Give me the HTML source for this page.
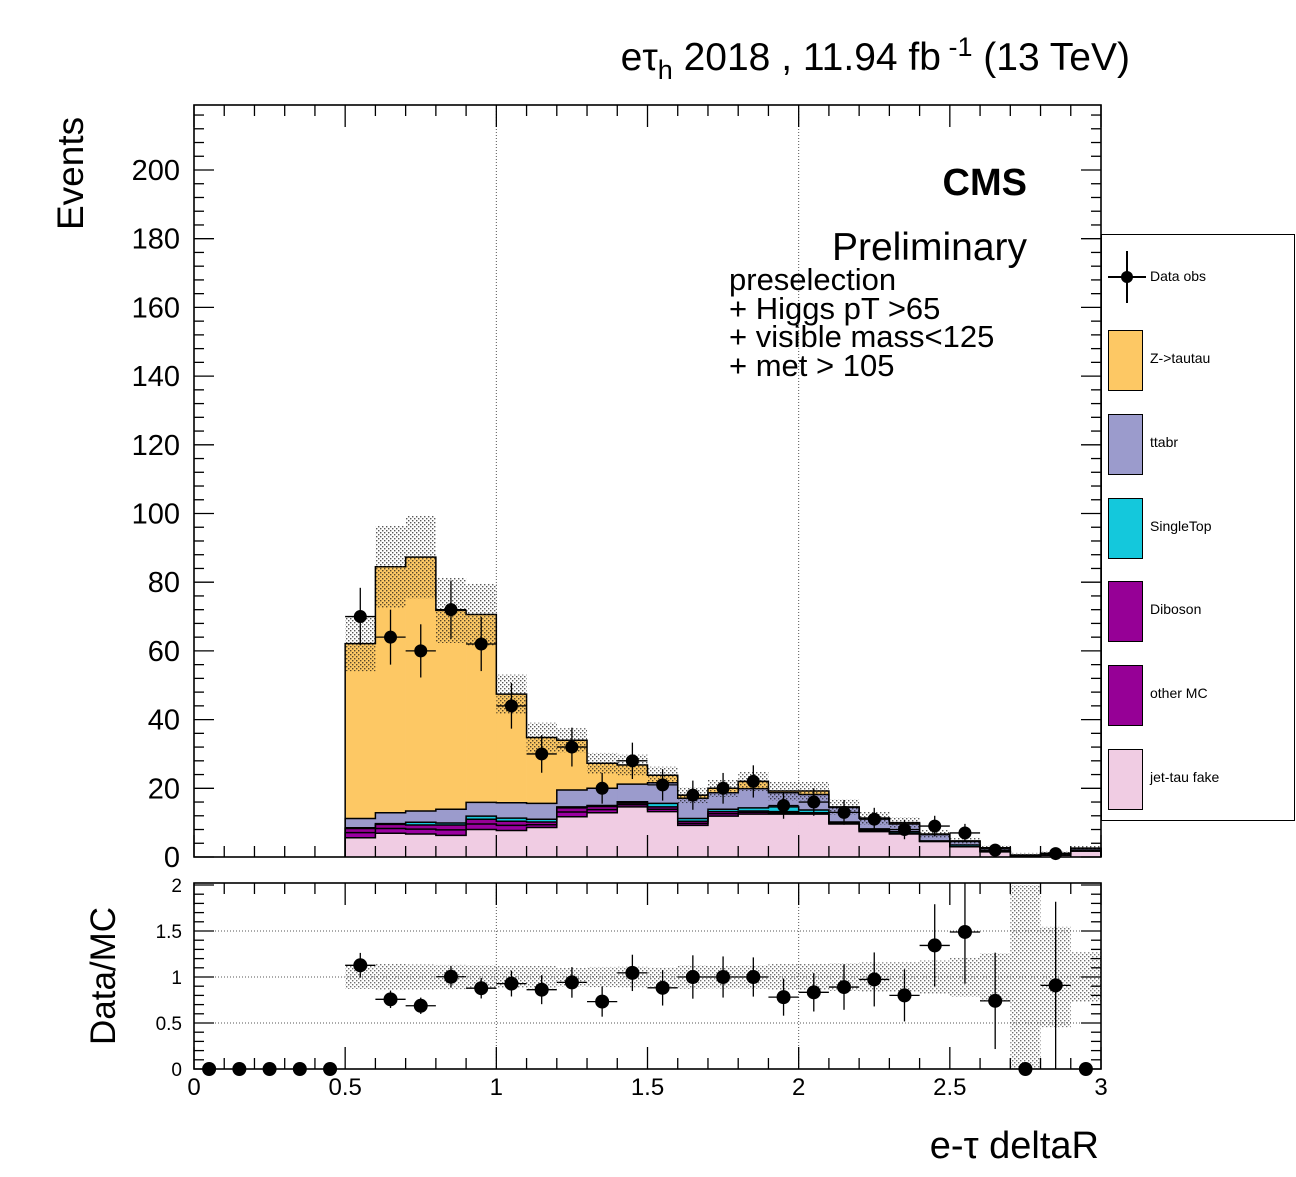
<!DOCTYPE html>
<html><head><meta charset="utf-8"><style>
body{margin:0;background:#fff;}
svg text{font-family:"Liberation Sans",sans-serif;}
</style></head><body>
<svg id="c" width="1296" height="1172" xmlns="http://www.w3.org/2000/svg">
<defs>
<pattern id="hatch" width="4" height="4" patternUnits="userSpaceOnUse">
<rect x="0" y="0" width="1.4" height="1.4" fill="#111"/><rect x="2" y="2" width="1.4" height="1.4" fill="#111"/>
</pattern>
</defs>
</svg>
<script>
const binWidth = 0.1;
const fake  = [0,0,0,0,0,5.6,6.9,6.7,6.3,8.0,7.7,8.6,11.7,12.9,14.6,13.2,9.2,11.9,12.5,12.5,12.5,9.6,7.4,6.7,4.5,3.0,1.5,0.3,0.5,1.7];
const other = [0,0,0,0,0,1.5,1.4,1.4,1.6,1.6,1.5,0.8,1.4,0.9,0.6,0.7,0.6,0.7,0.5,0.4,0.2,0.2,0.2,0.1,0.05,0,0.05,0,0,0.05];
const dib   = [0,0,0,0,0,1.2,1.2,1.2,1.4,1.4,1.2,0.8,1.2,0.9,0.5,0.7,0.6,0.6,0.4,0.3,0.2,0.2,0.2,0.1,0.05,0,0.05,0,0,0.05];
const st    = [0,0,0,0,0,0.2,0.2,0.8,0.6,0.9,0.9,0.8,0.3,0.3,0.4,1.0,0.8,0.7,0.9,1.4,0.8,0.2,0.4,0.5,0.1,0.5,0.2,0,0,0.1];
const tt    = [0,0,0,0,0,2.7,3.2,3.3,4.0,4.0,4.5,4.6,4.9,5.0,5.1,6.0,5.9,4.8,5.6,4.1,4.5,4.2,3.1,2.2,1.8,1.0,0.7,0.2,0.4,0.5];
const ztt   = [0,0,0,0,0,50.9,71.6,73.9,57.9,54.7,31.6,19.2,14.5,7.3,5.6,2.2,0.9,1.3,2.1,0.5,1.0,0.2,0,0.4,0.2,0.2,0.2,0.1,0.2,0.2];
const unc   = [0,0,0,0,0,8,12,12,9.5,9,5.7,4.3,3.5,3,3,2.5,2.3,2.5,2.8,2.7,2.7,2.2,1.8,1.6,1.2,1.0,0.7,0.6,0.6,0.7];
const dataObs=[0,0,0,0,0,70,64,60,72,62,44,30,32,20,28,21,18,20,22,15,16,13,11,8,9,7,2,0,1,0];
const yTicks=[0,20,40,60,80,100,120,140,160,180,200];
const xTickLabels=["0","0.5","1","1.5","2","2.5","3"];
const rTicks=["0","0.5","1","1.5","2"];

const NS="http://www.w3.org/2000/svg", svg=document.getElementById('c');
function el(t,a,p){const e=document.createElementNS(NS,t);for(const k in a)e.setAttribute(k,a[k]);(p||svg).appendChild(e);return e;}
const X0=194,X1=1101,Y0=857,Y1=105,YMAX=(857-105)/3.435;
const RY0=1069,RY1=883,RMAX=(1069-883)/92;
const sx=v=>X0+(X1-X0)*v/3, sy=v=>Y0-(Y0-Y1)*v/YMAX, ry=v=>RY0-(RY0-RY1)*Math.min(v,RMAX)/RMAX;
const n=fake.length;
const layers=[[fake,'#f0cce3'],[other,'#9a00a0'],[dib,'#960096'],[st,'#14c8dc'],[tt,'#9b9bcc'],[ztt,'#fdc864']];
const names=['fake','other-mc','diboson','singletop','ttbar','ztautau'];
const cum=new Array(n).fill(0);
const tot=[];for(let i=0;i<n;i++){tot.push(fake[i]+other[i]+dib[i]+st[i]+tt[i]+ztt[i]);}
let first=0;while(first<n&&tot[first]<=0)first++;
[1,2].forEach(v=>{const g=el('line',{x1:sx(v),x2:sx(v),y1:Y1,y2:Y0,stroke:'#555','stroke-dasharray':'1,2','stroke-width':1});
});
const outlines=[];
layers.forEach((L,li)=>{const g=el('g',{});
 let d='';
 for(let i=first;i<n;i++){const v=L[0][i];
  const b=cum[i],t=b+v;
  const r=el('rect',{x:sx(i*binWidth),width:sx((i+1)*binWidth)-sx(i*binWidth)+0.3,y:sy(t),height:Math.max(0,sy(b)-sy(t)),fill:L[1]},g);
  
  d+=(i===first?`M${sx(i*binWidth)} ${sy(0)}V${sy(t)}`:`V${sy(t)}`)+`H${sx((i+1)*binWidth)}`;
  cum[i]=t;}
 d+=`V${sy(0)}`;
 outlines.push(d);
});
outlines.forEach(d=>el('path',{d:d,stroke:'#000','stroke-width':1.5,fill:'none'}));
const ug=el('g',{});
for(let i=0;i<n;i++){if(tot[i]<=0)continue;const r=el('rect',{x:sx(i*binWidth),width:sx(binWidth)-sx(0),y:sy(tot[i]+unc[i]),height:sy(tot[i]-unc[i])-sy(tot[i]+unc[i]),fill:'url(#hatch)',opacity:0.7},ug);
 }
const dg=el('g',{});
for(let i=0;i<n;i++){const v=dataObs[i];if(v<=0)continue;const cx=sx((i+0.5)*binWidth),e=Math.sqrt(v);
 el('line',{x1:sx(i*binWidth),x2:sx((i+1)*binWidth),y1:sy(v),y2:sy(v),stroke:'#000','stroke-width':1.3},dg);
 el('line',{x1:cx,x2:cx,y1:sy(v+e),y2:sy(v-e),stroke:'#000','stroke-width':1.3},dg);
 const c=el('circle',{cx:cx,cy:sy(v),r:6.5,fill:'#000'},dg);}
function frame(y1,y0,nm){const r=el('rect',{x:X0,y:y1,width:X1-X0,height:y0-y1,fill:'none',stroke:'#000','stroke-width':1.6});}
frame(Y1,Y0,'main-frame');
for(let v=0;v<=YMAX;v+=4){const maj=v%20===0,L=maj?20:10;
 el('line',{x1:X0,x2:X0+L,y1:sy(v),y2:sy(v),stroke:'#000','stroke-width':1.3});
 el('line',{x1:X1,x2:X1-L,y1:sy(v),y2:sy(v),stroke:'#000','stroke-width':1.3});}
yTicks.forEach(v=>{const t=el('text',{x:180,y:sy(v)+10,'text-anchor':'end','font-size':29});t.textContent=v;});
function xticks(ya,yb){for(let k=0;k<=30;k++){const v=k/10,maj=k%5===0,L=maj?22:11;
 el('line',{x1:sx(v),x2:sx(v),y1:yb,y2:yb-L,stroke:'#000','stroke-width':1.3});
 el('line',{x1:sx(v),x2:sx(v),y1:ya,y2:ya+L,stroke:'#000','stroke-width':1.3});}}
xticks(Y1,Y0);
[0.5,1,1.5].forEach(v=>{const g=el('line',{x1:X0,x2:X1,y1:ry(v),y2:ry(v),stroke:'#555','stroke-dasharray':'1,2'});});
[1,2].forEach(v=>{el('line',{x1:sx(v),x2:sx(v),y1:RY1,y2:RY0,stroke:'#555','stroke-dasharray':'1,2'});});
const rg=el('g',{});
for(let i=0;i<n;i++){if(tot[i]<=0)continue;const f=unc[i]/tot[i];
 const r=el('rect',{x:sx(i*binWidth),width:sx(binWidth)-sx(0),y:ry(1+f),height:ry(Math.max(0,1-f))-ry(1+f),fill:'url(#hatch)',opacity:0.6},rg);
 }
const pg=el('g',{});
for(let i=0;i<n;i++){const cx=sx((i+0.5)*binWidth);let r=tot[i]>0?dataObs[i]/tot[i]:0;
 if(r>0){const e=Math.sqrt(dataObs[i])/tot[i];
  el('line',{x1:sx(i*binWidth),x2:sx((i+1)*binWidth),y1:ry(r),y2:ry(r),stroke:'#000','stroke-width':1.3},pg);
  el('line',{x1:cx,x2:cx,y1:ry(r+e),y2:ry(Math.max(0,r-e)),stroke:'#000','stroke-width':1.3},pg);}
 const c=el('circle',{cx:cx,cy:ry(r),r:7,fill:'#000'},pg);}
frame(RY1,RY0,'ratio-frame');
for(let v=0;v<=2.0001;v+=0.1){const k=Math.round(v*10),maj=k%5===0,L=maj?20:10;
 el('line',{x1:X0,x2:X0+L,y1:ry(v),y2:ry(v),stroke:'#000','stroke-width':1.3});
 el('line',{x1:X1,x2:X1-L,y1:ry(v),y2:ry(v),stroke:'#000','stroke-width':1.3});}
rTicks.forEach(s=>{const t=el('text',{x:182,y:ry(parseFloat(s))+7,'text-anchor':'end','font-size':19});t.textContent=s;});
xticks(RY1,RY0);
xTickLabels.forEach((s,i)=>{const t=el('text',{x:sx(i*0.5),y:1095,'text-anchor':'middle','font-size':24});t.textContent=s;});
</script>
<div style="position:absolute;left:0;top:0;width:1296px;height:1172px;pointer-events:none;font-family:'Liberation Sans',sans-serif;">
<div style="position:absolute;right:166px;top:32px;font-size:39px;white-space:nowrap;">eτ<sub style="font-size:27px;">h</sub> 2018 , 11.94 fb<sup style="font-size:27px;"> -1</sup> (13 TeV)</div>
<div style="position:absolute;left:50px;top:230px;font-size:37px;transform:rotate(-90deg);transform-origin:0 0;white-space:nowrap;">Events</div>
<div style="position:absolute;left:84px;top:1045px;font-size:35px;transform:rotate(-90deg);transform-origin:0 0;white-space:nowrap;">Data/MC</div>
<div style="position:absolute;right:197px;top:1125px;font-size:38px;white-space:nowrap;">e-τ deltaR</div>
<div style="position:absolute;right:269px;top:162px;font-size:38px;font-weight:bold;">CMS</div>
<div style="position:absolute;right:269px;top:226px;font-size:39px;">Preliminary</div>
<div style="position:absolute;left:729px;top:266px;font-size:31px;line-height:28.7px;white-space:nowrap;">preselection<br>+ Higgs pT &gt;65<br>+ visible mass&lt;125<br>+ met &gt; 105</div>
<div style="position:absolute;left:1101px;top:234px;width:192px;height:585px;border:1px solid #000;background:#fff;font-size:14px;">
 <div style="position:absolute;left:0;top:16px;width:190px;height:52px;">
  <div style="position:absolute;left:24px;top:0;width:1.5px;height:52px;background:#000;"></div>
  <div style="position:absolute;left:6px;top:25px;width:38px;height:1.5px;background:#000;"></div>
  <div style="position:absolute;left:19px;top:20px;width:12px;height:12px;border-radius:50%;background:#000;"></div>
  <div style="position:absolute;left:48px;top:17px;">Data obs</div></div>
 <div style="position:absolute;left:6px;top:95px;"><div style="width:33px;height:59px;background:#fdc864;border:1px solid #000;"></div><div style="position:absolute;left:42px;top:20px;white-space:nowrap;">Z-&gt;tautau</div></div>
 <div style="position:absolute;left:6px;top:179px;"><div style="width:33px;height:59px;background:#9b9bcc;border:1px solid #000;"></div><div style="position:absolute;left:42px;top:20px;">ttabr</div></div>
 <div style="position:absolute;left:6px;top:263px;"><div style="width:33px;height:59px;background:#14c8dc;border:1px solid #000;"></div><div style="position:absolute;left:42px;top:20px;">SingleTop</div></div>
 <div style="position:absolute;left:6px;top:346px;"><div style="width:33px;height:59px;background:#960096;border:1px solid #000;"></div><div style="position:absolute;left:42px;top:20px;">Diboson</div></div>
 <div style="position:absolute;left:6px;top:430px;"><div style="width:33px;height:59px;background:#960096;border:1px solid #000;"></div><div style="position:absolute;left:42px;top:20px;white-space:nowrap;">other MC</div></div>
 <div style="position:absolute;left:6px;top:514px;"><div style="width:33px;height:59px;background:#f0cce3;border:1px solid #000;"></div><div style="position:absolute;left:42px;top:20px;white-space:nowrap;">jet-tau fake</div></div>
</div>
</div>
</body></html>
